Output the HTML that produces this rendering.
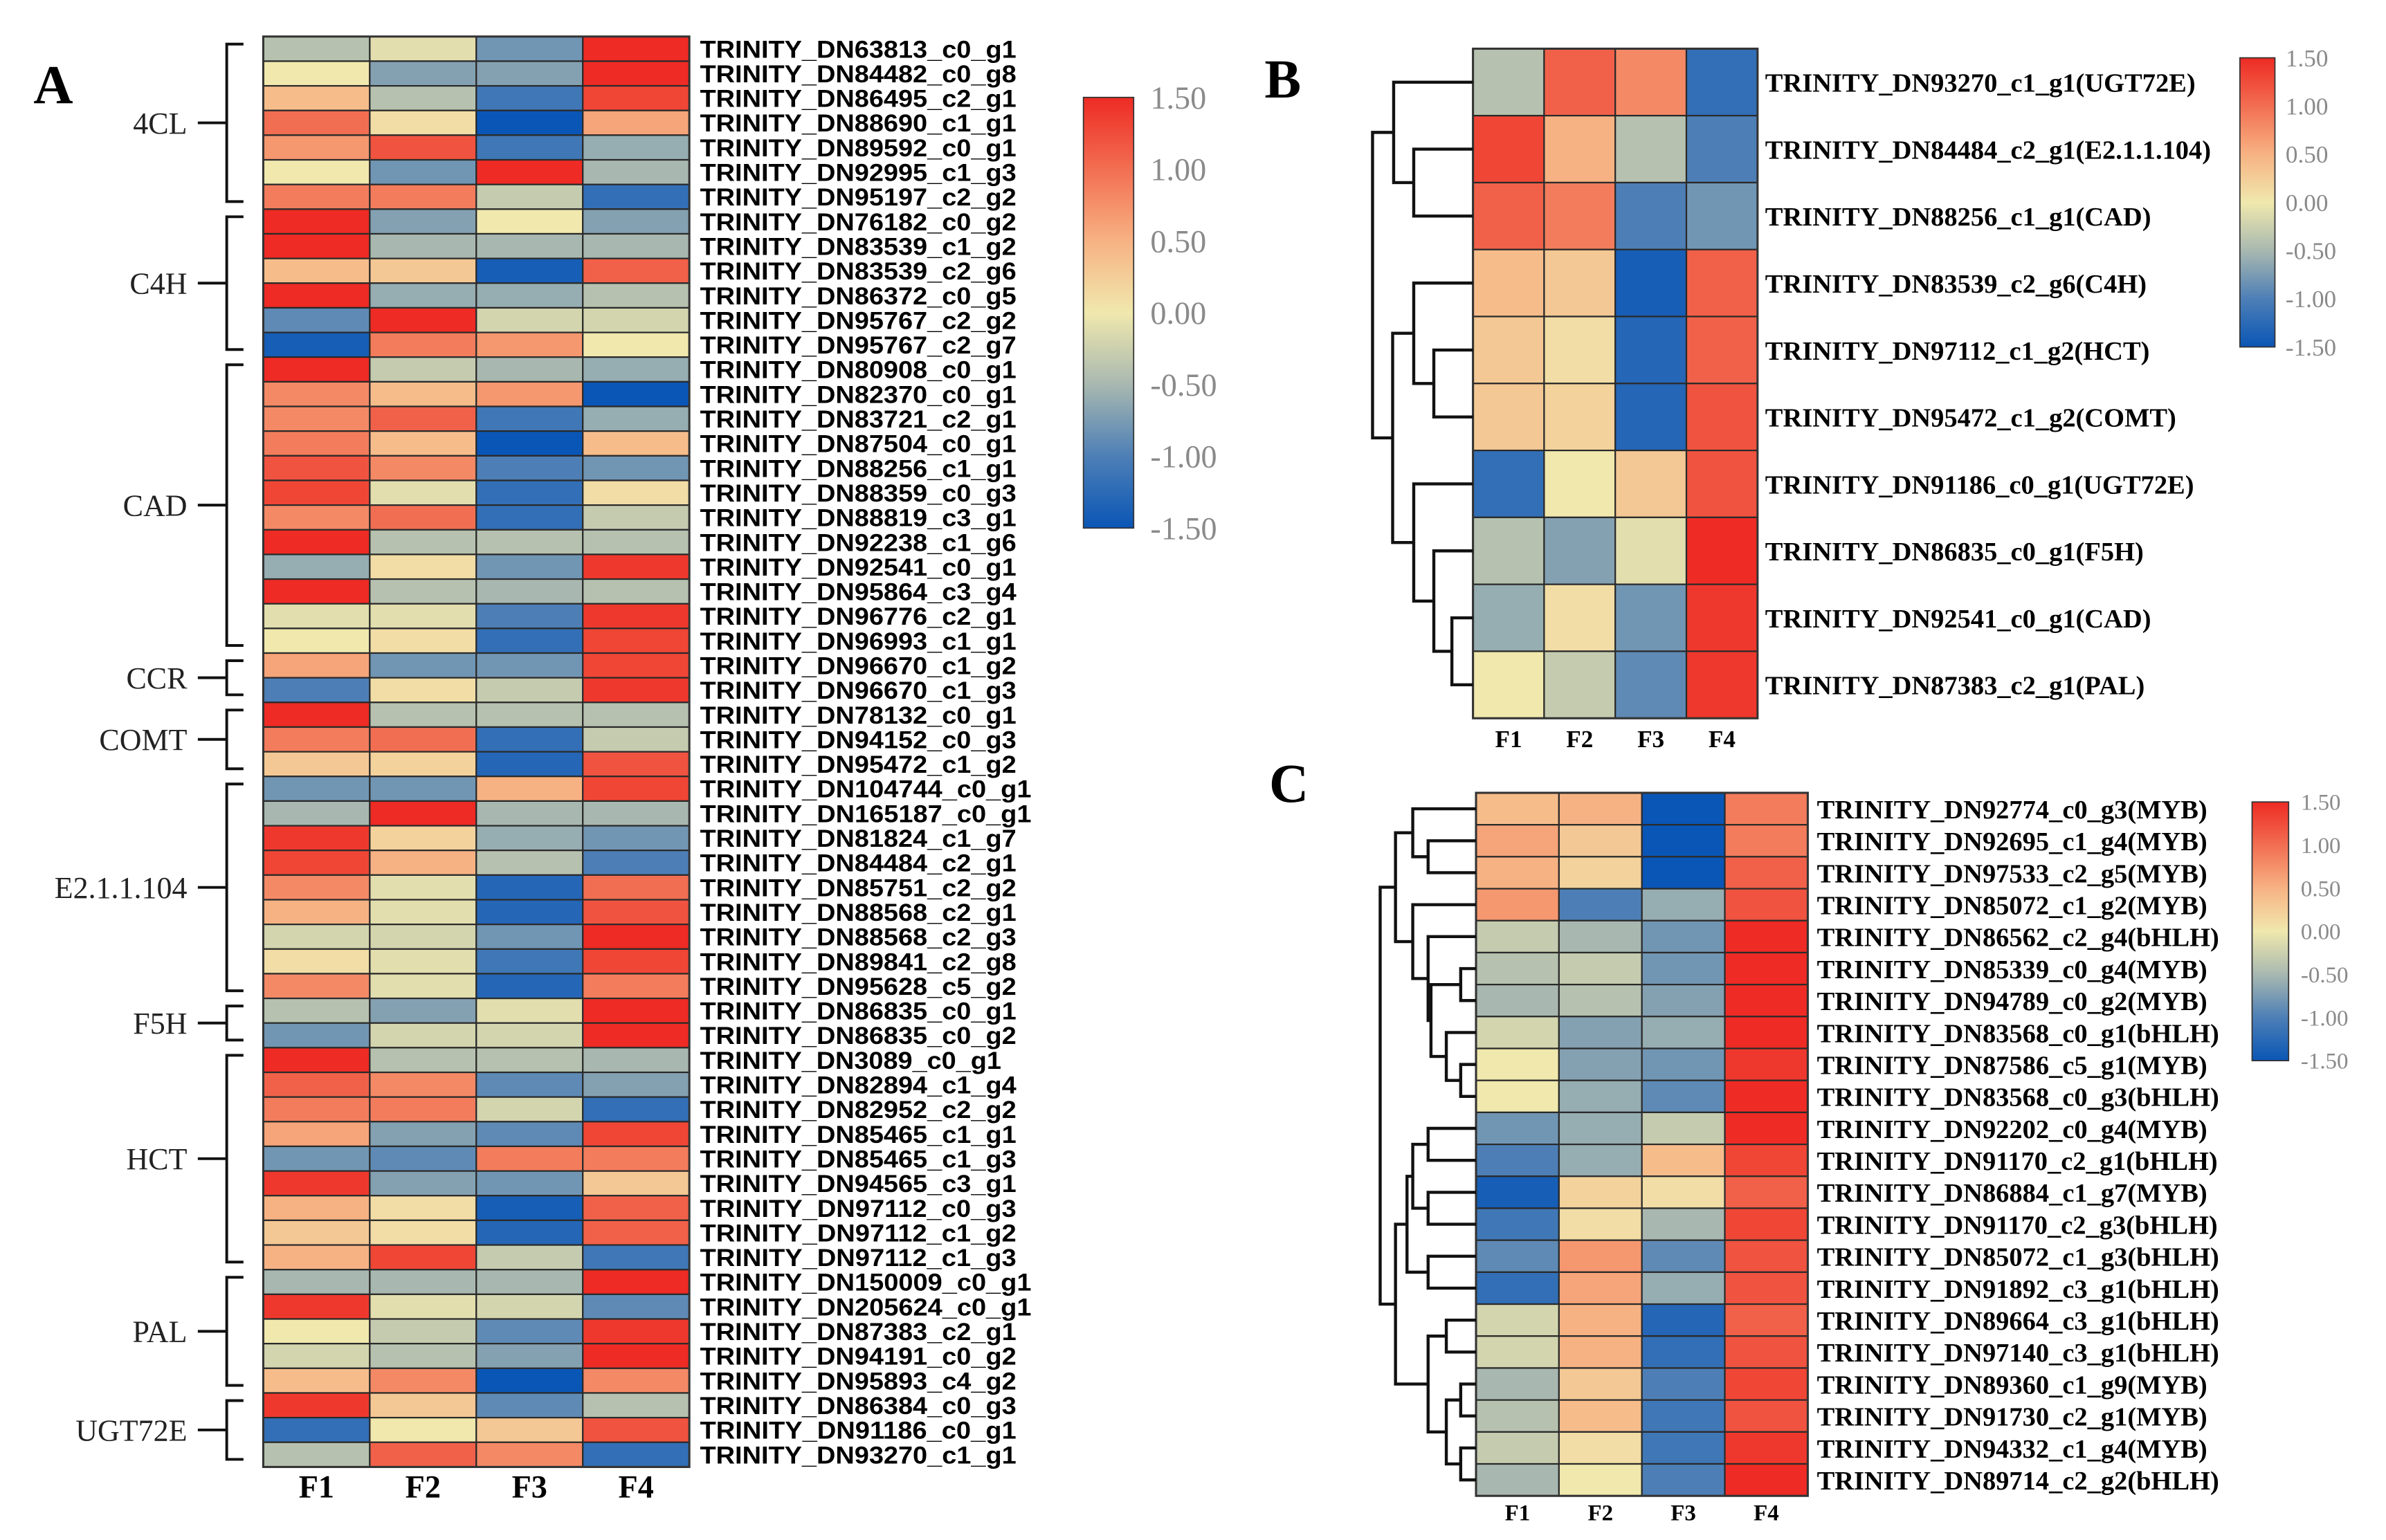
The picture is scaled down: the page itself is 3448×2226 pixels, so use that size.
<!DOCTYPE html>
<html><head><meta charset="utf-8">
<style>
html,body{margin:0;padding:0;background:#fff;}
svg{display:block;}
</style></head>
<body>
<svg id="fig" xmlns="http://www.w3.org/2000/svg" width="3448" height="2226" viewBox="0 0 1568 1012" preserveAspectRatio="none">
<defs>
<linearGradient id="cbar" x1="0" y1="0" x2="0" y2="1">
<stop offset="0" stop-color="#ee2b24"/>
<stop offset="0.1667" stop-color="#f26e52"/>
<stop offset="0.3333" stop-color="#f7b283"/>
<stop offset="0.5" stop-color="#f0e8ad"/>
<stop offset="0.6667" stop-color="#a8b8b0"/>
<stop offset="0.8333" stop-color="#4d7fb6"/>
<stop offset="1" stop-color="#0a56b6"/>
</linearGradient>
</defs>
<text x="22" y="68" font-family="Liberation Serif, serif" font-weight="bold" font-size="36">A</text>
<text x="831" y="64" font-family="Liberation Serif, serif" font-weight="bold" font-size="36">B</text>
<text x="834" y="527" font-family="Liberation Serif, serif" font-weight="bold" font-size="36">C</text>
<g id="gA"></g>
<g id="gB"></g>
<g id="gC"></g>
</svg>
<script>
const columns = ["F1","F2","F3","F4"];
const aNames = ["TRINITY_DN63813_c0_g1","TRINITY_DN84482_c0_g8","TRINITY_DN86495_c2_g1","TRINITY_DN88690_c1_g1","TRINITY_DN89592_c0_g1","TRINITY_DN92995_c1_g3","TRINITY_DN95197_c2_g2","TRINITY_DN76182_c0_g2","TRINITY_DN83539_c1_g2","TRINITY_DN83539_c2_g6","TRINITY_DN86372_c0_g5","TRINITY_DN95767_c2_g2","TRINITY_DN95767_c2_g7","TRINITY_DN80908_c0_g1","TRINITY_DN82370_c0_g1","TRINITY_DN83721_c2_g1","TRINITY_DN87504_c0_g1","TRINITY_DN88256_c1_g1","TRINITY_DN88359_c0_g3","TRINITY_DN88819_c3_g1","TRINITY_DN92238_c1_g6","TRINITY_DN92541_c0_g1","TRINITY_DN95864_c3_g4","TRINITY_DN96776_c2_g1","TRINITY_DN96993_c1_g1","TRINITY_DN96670_c1_g2","TRINITY_DN96670_c1_g3","TRINITY_DN78132_c0_g1","TRINITY_DN94152_c0_g3","TRINITY_DN95472_c1_g2","TRINITY_DN104744_c0_g1","TRINITY_DN165187_c0_g1","TRINITY_DN81824_c1_g7","TRINITY_DN84484_c2_g1","TRINITY_DN85751_c2_g2","TRINITY_DN88568_c2_g1","TRINITY_DN88568_c2_g3","TRINITY_DN89841_c2_g8","TRINITY_DN95628_c5_g2","TRINITY_DN86835_c0_g1","TRINITY_DN86835_c0_g2","TRINITY_DN3089_c0_g1","TRINITY_DN82894_c1_g4","TRINITY_DN82952_c2_g2","TRINITY_DN85465_c1_g1","TRINITY_DN85465_c1_g3","TRINITY_DN94565_c3_g1","TRINITY_DN97112_c0_g3","TRINITY_DN97112_c1_g2","TRINITY_DN97112_c1_g3","TRINITY_DN150009_c0_g1","TRINITY_DN205624_c0_g1","TRINITY_DN87383_c2_g1","TRINITY_DN94191_c0_g2","TRINITY_DN95893_c4_g2","TRINITY_DN86384_c0_g3","TRINITY_DN91186_c0_g1","TRINITY_DN93270_c1_g1"];
const aValues = [
[-0.4,-0.1,-0.8,1.5],[0.0,-0.7,-0.7,1.5],[0.4,-0.4,-1.1,1.3],[1.0,0.1,-1.5,0.6],[0.7,1.2,-1.1,-0.6],[0.0,-0.8,1.5,-0.5],[0.9,0.9,-0.3,-1.2],
[1.5,-0.7,0.0,-0.7],[1.5,-0.5,-0.5,-0.5],[0.4,0.3,-1.4,1.1],[1.5,-0.6,-0.6,-0.4],[-0.9,1.5,-0.2,-0.2],[-1.4,0.9,0.7,0.0],
[1.5,-0.3,-0.5,-0.6],[0.8,0.4,0.7,-1.5],[0.8,1.1,-1.1,-0.6],[0.9,0.4,-1.5,0.4],[1.2,0.8,-1.0,-0.8],[1.3,-0.1,-1.2,0.1],[0.8,1.0,-1.2,-0.3],[1.5,-0.4,-0.4,-0.4],[-0.6,0.1,-0.8,1.4],[1.5,-0.4,-0.5,-0.4],[-0.1,-0.1,-1.0,1.4],[0.0,0.1,-1.2,1.3],
[0.6,-0.8,-0.8,1.3],[-1.0,0.1,-0.3,1.4],
[1.5,-0.4,-0.4,-0.4],[0.9,1.0,-1.2,-0.3],[0.3,0.2,-1.3,1.2],
[-0.8,-0.8,0.5,1.3],[-0.5,1.5,-0.5,-0.5],[1.4,0.2,-0.6,-0.8],[1.3,0.5,-0.4,-1.0],[0.8,-0.1,-1.3,1.0],[0.5,-0.1,-1.3,1.2],[-0.2,-0.2,-0.8,1.5],[0.1,-0.1,-1.1,1.3],[0.8,-0.1,-1.3,0.9],
[-0.4,-0.7,-0.1,1.5],[-0.8,-0.2,-0.2,1.5],
[1.5,-0.4,-0.4,-0.5],[1.1,0.8,-0.9,-0.7],[0.9,0.9,-0.2,-1.2],[0.6,-0.7,-0.9,1.3],[-0.8,-0.9,0.9,0.9],[1.4,-0.7,-0.8,0.3],[0.5,0.1,-1.4,1.1],[0.3,0.1,-1.3,1.1],[0.5,1.3,-0.3,-1.1],
[-0.5,-0.5,-0.5,1.5],[1.4,-0.1,-0.2,-0.9],[0.0,-0.3,-0.9,1.4],[-0.2,-0.4,-0.7,1.5],[0.4,0.8,-1.5,0.8],
[1.4,0.3,-0.9,-0.4],[-1.2,0.0,0.3,1.2],[-0.4,1.1,0.8,-1.2]];
const aGroups = ["4CL","C4H","CAD","CCR","COMT","E2.1.1.104","F5H","HCT","PAL","UGT72E"];
const aGroupSizes = [7,6,12,2,3,9,2,9,5,3];

const bNames = ["TRINITY_DN93270_c1_g1(UGT72E)","TRINITY_DN84484_c2_g1(E2.1.1.104)","TRINITY_DN88256_c1_g1(CAD)","TRINITY_DN83539_c2_g6(C4H)","TRINITY_DN97112_c1_g2(HCT)","TRINITY_DN95472_c1_g2(COMT)","TRINITY_DN91186_c0_g1(UGT72E)","TRINITY_DN86835_c0_g1(F5H)","TRINITY_DN92541_c0_g1(CAD)","TRINITY_DN87383_c2_g1(PAL)"];
const bValues = [[-0.4,1.1,0.8,-1.2],[1.3,0.5,-0.4,-1.0],[1.1,0.9,-1.0,-0.8],[0.4,0.3,-1.4,1.1],[0.3,0.1,-1.3,1.1],[0.3,0.2,-1.3,1.2],[-1.2,0.0,0.3,1.2],[-0.4,-0.7,-0.1,1.5],[-0.6,0.1,-0.8,1.4],[0.0,-0.3,-0.9,1.4]];
const bTree = [[0,[1,2,0.59],0.79],[[3,[4,5,0.39],0.59],[6,[7,[8,9,0.21],0.39],0.59],0.8],1.0];

const cNames = ["TRINITY_DN92774_c0_g3(MYB)","TRINITY_DN92695_c1_g4(MYB)","TRINITY_DN97533_c2_g5(MYB)","TRINITY_DN85072_c1_g2(MYB)","TRINITY_DN86562_c2_g4(bHLH)","TRINITY_DN85339_c0_g4(MYB)","TRINITY_DN94789_c0_g2(MYB)","TRINITY_DN83568_c0_g1(bHLH)","TRINITY_DN87586_c5_g1(MYB)","TRINITY_DN83568_c0_g3(bHLH)","TRINITY_DN92202_c0_g4(MYB)","TRINITY_DN91170_c2_g1(bHLH)","TRINITY_DN86884_c1_g7(MYB)","TRINITY_DN91170_c2_g3(bHLH)","TRINITY_DN85072_c1_g3(bHLH)","TRINITY_DN91892_c3_g1(bHLH)","TRINITY_DN89664_c3_g1(bHLH)","TRINITY_DN97140_c3_g1(bHLH)","TRINITY_DN89360_c1_g9(MYB)","TRINITY_DN91730_c2_g1(MYB)","TRINITY_DN94332_c1_g4(MYB)","TRINITY_DN89714_c2_g2(bHLH)"];
const cValues = [[0.4,0.5,-1.5,0.9],[0.6,0.3,-1.5,0.9],[0.5,0.2,-1.5,1.1],[0.7,-1.0,-0.6,1.2],[-0.3,-0.5,-0.8,1.5],[-0.4,-0.3,-0.8,1.5],[-0.5,-0.4,-0.7,1.5],[-0.2,-0.7,-0.6,1.5],[0.0,-0.7,-0.8,1.4],[0.0,-0.6,-0.9,1.5],[-0.8,-0.6,-0.3,1.5],[-1.0,-0.6,0.4,1.3],[-1.4,0.2,0.1,1.1],[-1.1,0.1,-0.5,1.3],[-0.9,0.7,-0.9,1.2],[-1.2,0.6,-0.6,1.2],[-0.2,0.5,-1.3,1.1],[-0.2,0.5,-1.2,1.2],[-0.5,0.3,-1.0,1.3],[-0.4,0.4,-1.1,1.2],[-0.3,0.1,-1.1,1.4],[-0.5,0.0,-1.0,1.5]];
const cTree = [[[0,[1,2,0.5],0.66],[3,[4,[[5,6,0.16],[7,[8,9,0.16],0.31],0.47],0.5],0.66],0.84],[[[[10,11,0.5],[12,13,0.5],0.66],[14,15,0.5],0.72],[[16,17,0.31],[[18,19,0.16],[20,21,0.16],0.31],0.5],0.84],1.0];

const cbTicks = ["1.50","1.00","0.50","0.00","-0.50","-1.00","-1.50"];

const NS="http://www.w3.org/2000/svg";
const stopsV=[-1.5,-1,-0.5,0,0.5,1,1.5];
const stopsC=[[10,86,182],[77,127,182],[168,184,176],[240,232,173],[247,178,131],[242,110,82],[238,43,36]];
function colorOf(v){
  v=Math.max(-1.5,Math.min(1.5,v));
  let i=0; while(i<stopsV.length-2 && v>stopsV[i+1]) i++;
  const t=(v-stopsV[i])/(stopsV[i+1]-stopsV[i]);
  const a=stopsC[i],b=stopsC[i+1];
  return "rgb("+a.map((c,k)=>Math.round(c+(b[k]-c)*t)).join(",")+")";
}
function mk(tag,attrs,parent){const e=document.createElementNS(NS,tag);for(const k in attrs)e.setAttribute(k,attrs[k]);parent.appendChild(e);return e;}

function heatmap(g,names,values,o){
  const cw=o.w/columns.length, rh=o.h/names.length;
  const xScale=j=>o.x+j*cw, yScale=i=>o.y+i*rh;
  values.forEach((row,i)=>{
    row.forEach((v,j)=>{
      const r=mk("rect",{x:xScale(j),y:yScale(i),width:cw,height:rh,fill:colorOf(v),stroke:"#2a2a2a","stroke-width":o.sw},g);
      
      
    });
    const t=mk("text",{x:o.lx,y:yScale(i)+rh/2+o.fs*0.36,"font-family":o.font,"font-weight":"bold","font-size":o.fs,fill:"#000"},g);
    if(o.cpw){t.setAttribute("textLength",names[i].length*o.cpw);t.setAttribute("lengthAdjust","spacingAndGlyphs");}
    t.textContent=names[i];
    
    
  });
  mk("rect",{x:o.x,y:o.y,width:o.w,height:o.h,fill:"none",stroke:"#333","stroke-width":o.sw*1.4},g);
  columns.forEach((c,j)=>{
    const t=mk("text",{x:xScale(j)+cw/2,y:o.y+o.h+o.cfy,"text-anchor":"middle","font-family":"Liberation Serif, serif","font-weight":"bold","font-size":o.cfs},g);
    t.textContent=c;
    
    
  });
  return {yScale,rh};
}
function colorbar(g,x,y,w,h,lx,fs,color){
  const r=mk("rect",{x:x,y:y,width:w,height:h,fill:"url(#cbar)",stroke:"#333","stroke-width":0.8},g);
  
  
  cbTicks.forEach((lab,i)=>{
    const t=mk("text",{x:lx,y:y+i*h/(cbTicks.length-1)+fs*0.35,"font-family":"Liberation Serif, serif","font-size":fs,fill:color},g);
    t.textContent=lab;
    
    
  });
}
function dendro(g,tree,xRight,width,yScale,rh){
  function draw(n){
    if(typeof n==="number") return {x:xRight,y:yScale(n)+rh/2};
    const a=draw(n[0]),b=draw(n[1]);const x=xRight-n[2]*width;
    const p=mk("path",{d:`M${a.x},${a.y}H${x}V${b.y}H${b.x}`,fill:"none",stroke:"#111","stroke-width":2},g);
    
    
    return {x:x,y:(a.y+b.y)/2};
  }
  draw(tree);
}

// Panel A
const gA=document.getElementById("gA");
const A=heatmap(gA,aNames,aValues,{x:173,y:24,w:280,h:940,lx:460,fs:16,cpw:9.9,font:"Liberation Sans, sans-serif",sw:1,cfs:21,cfy:20});
colorbar(gA,712,64,33,283,756,21,"#8a8a8a");
let start=0;
aGroups.forEach((gname,k)=>{
  const n=aGroupSizes[k];
  const y0=A.yScale(start)+5, y1=A.yScale(start+n)-5, ym=(y0+y1)/2;
  const p=mk("path",{d:`M160,${y0}H149V${y1}H160M149,${ym}H130`,fill:"none",stroke:"#111","stroke-width":1.8},gA);
  
  
  const t=mk("text",{x:123,y:ym+7,"text-anchor":"end","font-family":"Liberation Serif, serif","font-size":20,fill:"#222"},gA);
  t.textContent=gname;
  
  
  start+=n;
});

// Panel B
const gB=document.getElementById("gB");
const B=heatmap(gB,bNames,bValues,{x:968,y:32,w:187,h:440,lx:1160,fs:17.5,cpw:0,font:"Liberation Serif, serif",sw:1,cfs:16,cfy:19});
dendro(gB,bTree,968,66,B.yScale,B.rh);
colorbar(gB,1472,38,23,190,1502,16,"#8a8a8a");

// Panel C
const gC=document.getElementById("gC");
const C=heatmap(gC,cNames,cValues,{x:970,y:521,w:218,h:462,lx:1194,fs:17.5,cpw:0,font:"Liberation Serif, serif",sw:1,cfs:15,cfy:16});
dendro(gC,cTree,970,63,C.yScale,C.rh);
colorbar(gC,1480,527,24,170,1512,15,"#8a8a8a");
</script>
</body></html>
